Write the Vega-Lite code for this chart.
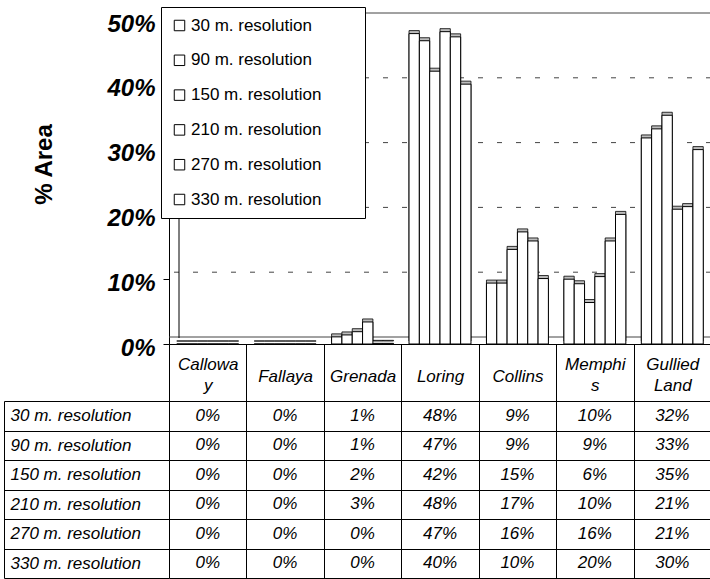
{
  "$schema": "https://vega.github.io/schema/vega-lite/v6.json",
  "padding": {"left": 3, "top": 6, "right": 0, "bottom": 0},
  "background": "white",
  "datasets": {
    "area": [
      {"soil": "Calloway", "resolution": "30 m. resolution", "value": 0},
      {"soil": "Calloway", "resolution": "90 m. resolution", "value": 0},
      {"soil": "Calloway", "resolution": "150 m. resolution", "value": 0},
      {"soil": "Calloway", "resolution": "210 m. resolution", "value": 0},
      {"soil": "Calloway", "resolution": "270 m. resolution", "value": 0},
      {"soil": "Calloway", "resolution": "330 m. resolution", "value": 0},
      {"soil": "Fallaya", "resolution": "30 m. resolution", "value": 0},
      {"soil": "Fallaya", "resolution": "90 m. resolution", "value": 0},
      {"soil": "Fallaya", "resolution": "150 m. resolution", "value": 0},
      {"soil": "Fallaya", "resolution": "210 m. resolution", "value": 0},
      {"soil": "Fallaya", "resolution": "270 m. resolution", "value": 0},
      {"soil": "Fallaya", "resolution": "330 m. resolution", "value": 0},
      {"soil": "Grenada", "resolution": "30 m. resolution", "value": 0.011},
      {"soil": "Grenada", "resolution": "90 m. resolution", "value": 0.014},
      {"soil": "Grenada", "resolution": "150 m. resolution", "value": 0.019},
      {"soil": "Grenada", "resolution": "210 m. resolution", "value": 0.034},
      {"soil": "Grenada", "resolution": "270 m. resolution", "value": 0.001},
      {"soil": "Grenada", "resolution": "330 m. resolution", "value": 0.001},
      {"soil": "Loring", "resolution": "30 m. resolution", "value": 0.479},
      {"soil": "Loring", "resolution": "90 m. resolution", "value": 0.468},
      {"soil": "Loring", "resolution": "150 m. resolution", "value": 0.421},
      {"soil": "Loring", "resolution": "210 m. resolution", "value": 0.482},
      {"soil": "Loring", "resolution": "270 m. resolution", "value": 0.474},
      {"soil": "Loring", "resolution": "330 m. resolution", "value": 0.401},
      {"soil": "Collins", "resolution": "30 m. resolution", "value": 0.094},
      {"soil": "Collins", "resolution": "90 m. resolution", "value": 0.094},
      {"soil": "Collins", "resolution": "150 m. resolution", "value": 0.146},
      {"soil": "Collins", "resolution": "210 m. resolution", "value": 0.173},
      {"soil": "Collins", "resolution": "270 m. resolution", "value": 0.159},
      {"soil": "Collins", "resolution": "330 m. resolution", "value": 0.101},
      {"soil": "Memphis", "resolution": "30 m. resolution", "value": 0.100},
      {"soil": "Memphis", "resolution": "90 m. resolution", "value": 0.093},
      {"soil": "Memphis", "resolution": "150 m. resolution", "value": 0.064},
      {"soil": "Memphis", "resolution": "210 m. resolution", "value": 0.104},
      {"soil": "Memphis", "resolution": "270 m. resolution", "value": 0.159},
      {"soil": "Memphis", "resolution": "330 m. resolution", "value": 0.200},
      {"soil": "Gullied Land", "resolution": "30 m. resolution", "value": 0.318},
      {"soil": "Gullied Land", "resolution": "90 m. resolution", "value": 0.332},
      {"soil": "Gullied Land", "resolution": "150 m. resolution", "value": 0.353},
      {"soil": "Gullied Land", "resolution": "210 m. resolution", "value": 0.208},
      {"soil": "Gullied Land", "resolution": "270 m. resolution", "value": 0.212},
      {"soil": "Gullied Land", "resolution": "330 m. resolution", "value": 0.300}
    ],
    "grid": [
      {"v": 0}, {"v": 0.1}, {"v": 0.2}, {"v": 0.3}, {"v": 0.4}, {"v": 0.5}
    ]
  },
  "vconcat": [
    {
      "width": 542,
      "height": 324,
      "layer": [
        {
          "data": {"name": "grid"},
          "mark": {"type": "rule", "yOffset": -7, "stroke": "#444444", "strokeWidth": 1},
          "encoding": {
            "y": {"field": "v", "type": "quantitative", "title": "% Area", "scale": {"domain": [0, 0.5], "nice": false}},
            "strokeDash": {"condition": {"test": "datum.v == 0.5 || datum.v == 0", "value": [1, 0]}, "value": [5, 14]}
          }
        },
        {
          "data": {"name": "grid"},
          "transform": [{"filter": "datum.v == 0"}],
          "mark": {"type": "rule", "xOffset": 10, "yOffset": -6, "stroke": "black", "strokeWidth": 1},
          "encoding": {
            "x": {"datum": "Calloway", "type": "nominal", "bandPosition": 0,
                  "scale": {"domain": ["Calloway", "Fallaya", "Grenada", "Loring", "Collins", "Memphis", "Gullied Land"], "paddingInner": 0, "paddingOuter": 0}},
            "y": {"datum": 0, "type": "quantitative", "title": "% Area", "scale": {"domain": [0, 0.5], "nice": false}},
            "y2": {"datum": 0.5}
          }
        },
        {
          "data": {"name": "area"},
          "mark": {"type": "bar", "xOffset": 3, "yOffset": -3, "fill": "#bdbdbd", "stroke": "black", "strokeWidth": 0.8},
          "encoding": {
            "x": {"field": "soil", "type": "nominal", "title": null,
                  "scale": {"domain": ["Calloway", "Fallaya", "Grenada", "Loring", "Collins", "Memphis", "Gullied Land"], "paddingInner": 0, "paddingOuter": 0}},
            "xOffset": {"field": "resolution", "type": "nominal",
                  "scale": {"domain": ["30 m. resolution", "90 m. resolution", "150 m. resolution", "210 m. resolution", "270 m. resolution", "330 m. resolution"], "paddingInner": 0, "paddingOuter": 0.75}},
            "y": {"field": "value", "type": "quantitative", "title": "% Area", "scale": {"domain": [0, 0.5], "nice": false}}
          }
        },
        {
          "data": {"name": "area"},
          "mark": {"type": "bar", "stroke": "black", "strokeWidth": 1},
          "encoding": {
            "x": {"field": "soil", "type": "nominal", "title": null,
                  "scale": {"domain": ["Calloway", "Fallaya", "Grenada", "Loring", "Collins", "Memphis", "Gullied Land"], "paddingInner": 0, "paddingOuter": 0},
                  "axis": {
                    "orient": "bottom",
                    "tickBand": "extent",
                    "tickSize": 57,
                    "tickColor": "black",
                    "domainColor": "black",
                    "labelAngle": 0,
                    "labelAlign": "center",
                    "labelFont": "Liberation Sans",
                    "labelFontStyle": "italic",
                    "labelFontSize": 17,
                    "labelColor": "black",
                    "labelBaseline": "middle",
                    "labelPadding": {"condition": {"test": "datum.value == 'Calloway' || datum.value == 'Memphis' || datum.value == 'Gullied Land'", "value": -37}, "value": -25},
                    "labelLineHeight": 21,
                    "labelExpr": "datum.value == 'Calloway' ? ['Callowa', 'y'] : datum.value == 'Memphis' ? ['Memphi', 's'] : datum.value == 'Gullied Land' ? ['Gullied', 'Land'] : datum.value"
                  }},
            "xOffset": {"field": "resolution", "type": "nominal",
                  "scale": {"domain": ["30 m. resolution", "90 m. resolution", "150 m. resolution", "210 m. resolution", "270 m. resolution", "330 m. resolution"], "paddingInner": 0, "paddingOuter": 0.75}},
            "y": {"field": "value", "type": "quantitative", "title": "% Area",
                  "scale": {"domain": [0, 0.5], "nice": false},
                  "axis": {
                    "values": [0, 0.1, 0.2, 0.3, 0.4, 0.5],
                    "format": ".0%",
                    "grid": false,
                    "tickSize": 6,
                    "tickColor": "black",
                    "domainColor": "black",
                    "labelFont": "Liberation Sans",
                    "labelFontWeight": "bold",
                    "labelFontStyle": "italic",
                    "labelFontSize": 24,
                    "labelColor": "black",
                    "labelPadding": 8,
                    "labelOffset": 4,
                    "titleFont": "Liberation Sans",
                    "titleFontWeight": "bold",
                    "titleFontSize": 24,
                    "titleColor": "black",
                    "titlePadding": 50,
                    "titleY": 144
                  }},
            "color": {"field": "resolution", "type": "nominal",
                  "scale": {"domain": ["30 m. resolution", "90 m. resolution", "150 m. resolution", "210 m. resolution", "270 m. resolution", "330 m. resolution"],
                            "range": ["white", "white", "white", "white", "white", "white"]},
                  "legend": {
                    "orient": "none",
                    "legendX": -8,
                    "legendY": -13,
                    "title": null,
                    "symbolType": "square",
                    "symbolSize": 110,
                    "symbolStrokeColor": "black",
                    "symbolStrokeWidth": 1,
                    "labelFont": "Liberation Sans",
                    "labelFontSize": 17,
                    "labelColor": "black",
                    "labelOffset": 3,
                    "labelLimit": 300,
                    "rowPadding": 16.8,
                    "padding": 10,
                    "fillColor": "white",
                    "strokeColor": "black",
                    "labelExpr": "datum.label + '\u00a0\u00a0\u00a0\u00a0\u00a0\u00a0\u00a0\u200b'"
                  }}
          }
        }
      ]
    },
    {
      "width": 542,
      "height": 177,
      "data": {"name": "area"},
      "mark": {"type": "text", "font": "Liberation Sans", "fontStyle": "italic", "fontSize": 17, "color": "black", "baseline": "middle", "align": "center"},
      "encoding": {
        "x": {"field": "soil", "type": "nominal", "title": null,
              "scale": {"domain": ["Calloway", "Fallaya", "Grenada", "Loring", "Collins", "Memphis", "Gullied Land"], "paddingInner": 0, "paddingOuter": 0},
              "axis": {"orient": "top", "tickBand": "extent", "grid": true, "gridColor": "black", "gridOpacity": 1, "gridWidth": 1, "labels": false, "ticks": false, "domain": false}},
        "y": {"field": "resolution", "type": "nominal", "title": null,
              "scale": {"domain": ["30 m. resolution", "90 m. resolution", "150 m. resolution", "210 m. resolution", "270 m. resolution", "330 m. resolution"], "paddingInner": 0, "paddingOuter": 0},
              "axis": {"orient": "left", "offset": 165, "tickBand": "extent", "tickSize": -165, "tickColor": "black", "domainColor": "black",
                       "grid": true, "gridColor": "black", "gridOpacity": 1, "gridWidth": 1,
                       "labelFont": "Liberation Sans", "labelFontStyle": "italic", "labelFontSize": 17, "labelColor": "black",
                       "labelAlign": "left", "labelBaseline": "middle", "labelPadding": 159, "labelLimit": 300}},
        "text": {"field": "value", "type": "quantitative", "format": ".0%"}
      }
    }
  ],
  "bounds": "flush",
  "spacing": 57,
  "config": {
    "view": {"stroke": null},
    "font": "Liberation Sans"
  }
}
